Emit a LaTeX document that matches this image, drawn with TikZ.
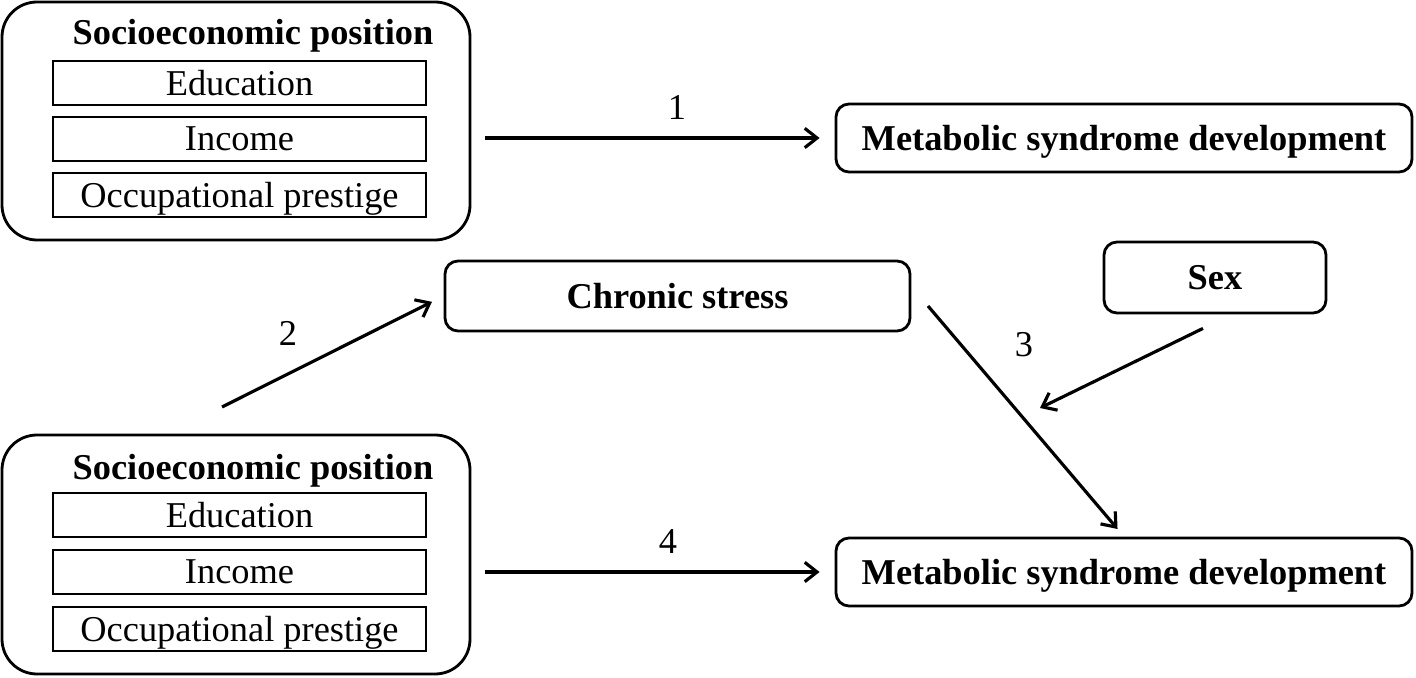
\documentclass[tikz,border=0pt]{standalone}
\usepackage{fontspec}
\setmainfont{Liberation Serif}
\usetikzlibrary{arrows.meta}
\def\pxu{0.02cm}
\tikzset{
  outerbox/.style={draw, line width=1.6pt, rounded corners=0.7cm, inner sep=0pt},
  innerbox/.style={draw, line width=1.6pt, inner sep=0pt, text depth=0pt, minimum width=373*\pxu, minimum height=44*\pxu},
  rbox/.style={draw, line width=1.6pt, rounded corners=0.26cm, inner sep=0pt, text depth=0pt, font=\fontsize{20.7}{24}\selectfont\bfseries},
  lbl/.style={inner sep=0pt},
  titl/.style={inner sep=0pt, text depth=0pt, font=\fontsize{20.7}{24}\selectfont\bfseries},
  arr/.style={line width=1.8pt, -{Straight Barb[length=7pt,width=11pt]}},
}
\begin{document}
\begin{tikzpicture}[x=0.02cm, y=-0.02cm, every node/.append style={font=\fontsize{20.7}{24}\selectfont}]
\useasboundingbox (0,0) rectangle (1416,678);
% top SEP
\node[outerbox, minimum width=468*\pxu, minimum height=238*\pxu] (sep1) at (236,121) {};
\node[titl] (sep1t) at (253,32) {Socioeconomic position};
\node[innerbox] (edu1) at (239.5,83) {Education};
\node[innerbox] (inc1) at (239.5,139) {Income};
\node[innerbox] (occ1) at (239.5,195) {Occupational prestige};
% bottom SEP
\node[outerbox, minimum width=468*\pxu, minimum height=239*\pxu] (sep2) at (236,554.5) {};
\node[titl] (sep2t) at (253,467) {Socioeconomic position};
\node[innerbox] (edu2) at (239.5,515) {Education};
\node[innerbox] (inc2) at (239.5,572) {Income};
\node[innerbox] (occ2) at (239.5,629) {Occupational prestige};
% right boxes
\node[rbox, minimum width=576*\pxu, minimum height=68*\pxu] (met1) at (1124,138) {Metabolic syndrome development};
\node[rbox, minimum width=576*\pxu, minimum height=68*\pxu] (met2) at (1124,572) {Metabolic syndrome development};
\node[rbox, minimum width=465*\pxu, minimum height=70*\pxu] (cs) at (677.5,296) {Chronic stress};
\node[rbox, minimum width=222*\pxu, minimum height=71*\pxu] (sex) at (1215,277.5) {Sex};
% coordinates
\coordinate (a2s) at (222,407);
\coordinate (a3s) at (928,306);
\coordinate (modpt) at (1040,408);
% arrows
\draw[arr, shorten <=14*\pxu, shorten >=15*\pxu] (sep1.east |- met1.west) -- (met1.west);
\draw[arr, shorten >=13*\pxu] (a2s) -- (cs.west);
\draw[arr, shorten >=10*\pxu] (a3s) -- (met2.north);
\draw[arr] ([shift={(-12,14)}]sex.south) -- (modpt);
\draw[arr, shorten <=14*\pxu, shorten >=15*\pxu] (sep2.east |- met2.west) -- (met2.west);
% labels
\node[lbl] (l1) at (677,108) {1};
\node[lbl] (l2) at (288,333) {2};
\node[lbl] (l3) at (1024,345) {3};
\node[lbl] (l4) at (668,542) {4};
\end{tikzpicture}
\end{document}
